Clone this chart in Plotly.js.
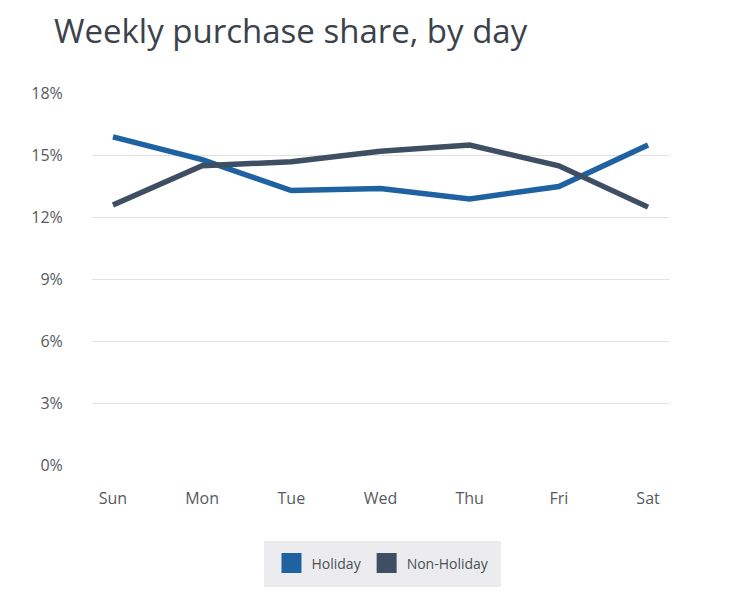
<!DOCTYPE html>
<html>
<head>
<meta charset="utf-8">
<script src="https://cdn.plot.ly/plotly-3.0.1.min.js"></script>
<style>html,body{margin:0;padding:0;background:#fff;}#chart{width:739px;height:600px;}</style>
</head>
<body>
<div id="chart"></div>
<script>
const days = ["Sun", "Mon", "Tue", "Wed", "Thu", "Fri", "Sat"];
const holiday = [15.9, 14.8, 13.3, 13.4, 12.9, 13.5, 15.5];
const nonHoliday = [12.6, 14.5, 14.7, 15.2, 15.5, 14.5, 12.5];
const yTicks = [0, 3, 6, 9, 12, 15, 18];
const yTickLabels = yTicks.map(v => v + "%");
const seriesNames = ["Holiday", "Non-Holiday"];
const colors = ["#1f62a2", "#3e4e63"];

const traces = [
  {x: days, y: holiday, mode: "lines", line: {color: colors[0], width: 5.5}, showlegend: false, hoverinfo: "skip"},
  {x: days, y: nonHoliday, mode: "lines", line: {color: colors[1], width: 5.5}, showlegend: false, hoverinfo: "skip"},
  {x: [null], y: [null], mode: "markers", name: seriesNames[0], marker: {symbol: "square", size: 16, color: colors[0], line: {color: colors[0], width: 4}}},
  {x: [null], y: [null], mode: "markers", name: seriesNames[1], marker: {symbol: "square", size: 16, color: colors[1], line: {color: colors[1], width: 4}}}
];

const layout = {
  width: 739, height: 600,
  margin: {l: 92, r: 70, t: 93, b: 134},
  paper_bgcolor: "#fff", plot_bgcolor: "#fff",
  font: {family: "Open Sans", color: "#555a60"},
  title: {text: "Weekly purchase share, by day", x: 54/739, xanchor: "left", y: 0.948, yanchor: "middle",
          font: {family: "Open Sans", size: 33, color: "#3b424b"}},
  xaxis: {type: "category", range: [-0.235, 6.235], showgrid: false, zeroline: false, showline: false,
          ticks: "outside", ticklen: 18, tickcolor: "rgba(0,0,0,0)", tickfont: {size: 16, color: "#555a60"}, fixedrange: true},
  yaxis: {range: [-0.02, 18.02], tickvals: yTicks, ticktext: yTickLabels, showgrid: true, gridcolor: "#e1e1e1", gridwidth: 1.5,
          zeroline: false, showline: false, ticks: "outside", ticklen: 25, tickcolor: "rgba(0,0,0,0)",
          tickfont: {size: 16, color: "#555a60"}, fixedrange: true},
  showlegend: true,
  legend: {orientation: "h", x: 0.5043, xanchor: "center", y: -0.2614, yanchor: "middle",
           bgcolor: "#ececee", bordercolor: "#ececee", borderwidth: 7, font: {size: 14, color: "#4a4f55"}, itemwidth: 30, tracegroupgap: 0},
};

Plotly.newPlot("chart", traces, layout, {displayModeBar: false, staticPlot: true});
</script>
</body>
</html>
